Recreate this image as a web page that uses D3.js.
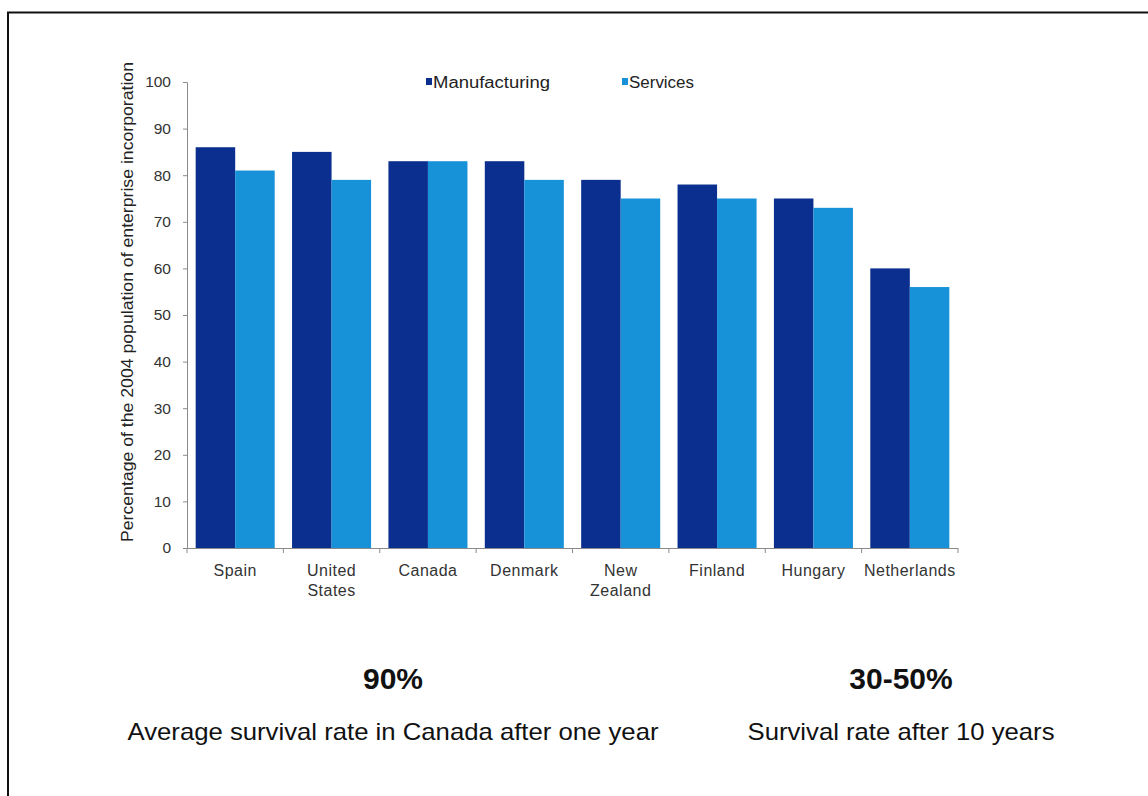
<!DOCTYPE html>
<html>
<head>
<meta charset="utf-8">
<script src="https://cdn.jsdelivr.net/npm/d3@7"></script>
<style>
  body { margin: 0; background: #fff; }
  svg { display: block; font-family: "Liberation Sans", Arial, sans-serif; }
</style>
</head>
<body>
<script>
// data
var countries = [["Spain"], ["United", "States"], ["Canada"], ["Denmark"], ["New", "Zealand"], ["Finland"], ["Hungary"], ["Netherlands"]];
var manufacturing = [86, 85, 83, 83, 79, 78, 75, 60];
var services = [81, 79, 83, 79, 75, 75, 73, 56];
var seriesNames = ["Manufacturing", "Services"];
var yTicks = [0, 10, 20, 30, 40, 50, 60, 70, 80, 90, 100];

var svgWidth = 1148, svgHeight = 796;
var margin = { top: 82, left: 187, right: 190, bottom: 248 };
var width = svgWidth - margin.left - margin.right;
var height = svgHeight - margin.top - margin.bottom;
var colors = ["#0a2f8f", "#1792d9"];

var svg = d3.select("body").append("svg")
  .attr("width", svgWidth)
  .attr("height", svgHeight);

// frame (top and left lines only)
svg.append("line").attr("x1", 7).attr("x2", 1148).attr("y1", 12.5).attr("y2", 12.5)
  .attr("stroke", "#111").attr("stroke-width", 2);
svg.append("line").attr("x1", 8).attr("x2", 8).attr("y1", 12).attr("y2", 796)
  .attr("stroke", "#111").attr("stroke-width", 2);

var chartGroup = svg.append("g")
  .attr("transform", "translate(" + margin.left + "," + margin.top + ")");

var keys = countries.map(d => d.join(" "));
var x0 = d3.scaleBand().domain(keys).range([0, width]).paddingInner(0.18).paddingOuter(0.09);
var x1 = d3.scaleBand().domain(seriesNames).range([0, x0.bandwidth()]);
var y = d3.scaleLinear().domain([0, 100]).range([height, 0]);

var rows = keys.map((k, i) => ({ key: k, values: [manufacturing[i], services[i]] }));

var groups = chartGroup.selectAll(".grp")
  .data(rows)
  .enter()
  .append("g")
  .attr("transform", d => "translate(" + x0(d.key) + ",0)");

groups.selectAll("rect")
  .data(d => d.values.map((v, j) => ({ name: seriesNames[j], v: v, j: j })))
  .enter()
  .append("rect")
  .attr("x", d => x1(d.name))
  .attr("width", x1.bandwidth())
  .attr("y", d => y(d.v))
  .attr("height", d => height - y(d.v))
  .attr("fill", d => colors[d.j]);

// y axis
var leftAxis = d3.axisLeft(y).tickValues(yTicks).tickSize(4).tickPadding(12);
var yAx = chartGroup.append("g").call(leftAxis);
yAx.select(".domain").attr("stroke", "#8a8a8a");
yAx.selectAll(".tick line").attr("stroke", "#8a8a8a");
yAx.selectAll(".tick text").attr("font-size", "15.5px").attr("fill", "#333")
  .attr("font-family", "Liberation Sans, Arial, sans-serif");

// x axis with ticks at category boundaries
var bounds = d3.range(keys.length + 1).map(i => i * width / keys.length);
chartGroup.append("line").attr("x1", 0).attr("x2", width)
  .attr("y1", height + 0.5).attr("y2", height + 0.5).attr("stroke", "#8a8a8a");
chartGroup.selectAll(".xt").data(bounds).enter().append("line")
  .attr("x1", d => d).attr("x2", d => d)
  .attr("y1", height).attr("y2", height + 5).attr("stroke", "#8a8a8a");

var xl = chartGroup.selectAll(".xl").data(countries).enter().append("text")
  .attr("text-anchor", "middle")
  .attr("font-size", "16px")
  .attr("letter-spacing", "0.5px")
  .attr("fill", "#333")
  .attr("transform", (d, i) => "translate(" + (x0(keys[i]) + x0.bandwidth() / 2) + "," + (height + 28) + ")");
xl.selectAll("tspan").data(d => d).enter().append("tspan")
  .attr("x", 0)
  .attr("dy", (d, i) => i === 0 ? 0 : 20)
  .text(d => d);

// y axis title
svg.append("text")
  .attr("transform", "translate(133,302) rotate(-90)")
  .attr("text-anchor", "middle")
  .attr("font-size", "16px")
  .attr("textLength", 480)
  .attr("lengthAdjust", "spacingAndGlyphs")
  .attr("fill", "#222")
  .text("Percentage of the 2004 population of enterprise incorporation");

// legend
var legendX = [426, 622];
var legendW = [117, 65];
seriesNames.forEach(function (n, i) {
  svg.append("rect").attr("x", legendX[i]).attr("y", 78).attr("width", 6).attr("height", 7).attr("fill", colors[i]);
  svg.append("text").attr("x", legendX[i] + 7).attr("y", 88)
    .attr("font-size", "16px").attr("fill", "#222")
    .attr("textLength", legendW[i]).attr("lengthAdjust", "spacingAndGlyphs")
    .text(n);
});

// callouts below the chart
var callouts = [
  { big: "90%", small: "Average survival rate in Canada after one year", cx: 393, w: 531 },
  { big: "30-50%", small: "Survival rate after 10 years", cx: 901, w: 307 }
];
callouts.forEach(function (c) {
  svg.append("text").attr("x", c.cx).attr("y", 689).attr("text-anchor", "middle")
    .attr("font-size", "30px").attr("font-weight", "bold").attr("fill", "#111").text(c.big);
  svg.append("text").attr("x", c.cx).attr("y", 740).attr("text-anchor", "middle")
    .attr("font-size", "24px").attr("fill", "#111")
    .attr("textLength", c.w).attr("lengthAdjust", "spacingAndGlyphs")
    .text(c.small);
});
</script>
</body>
</html>
